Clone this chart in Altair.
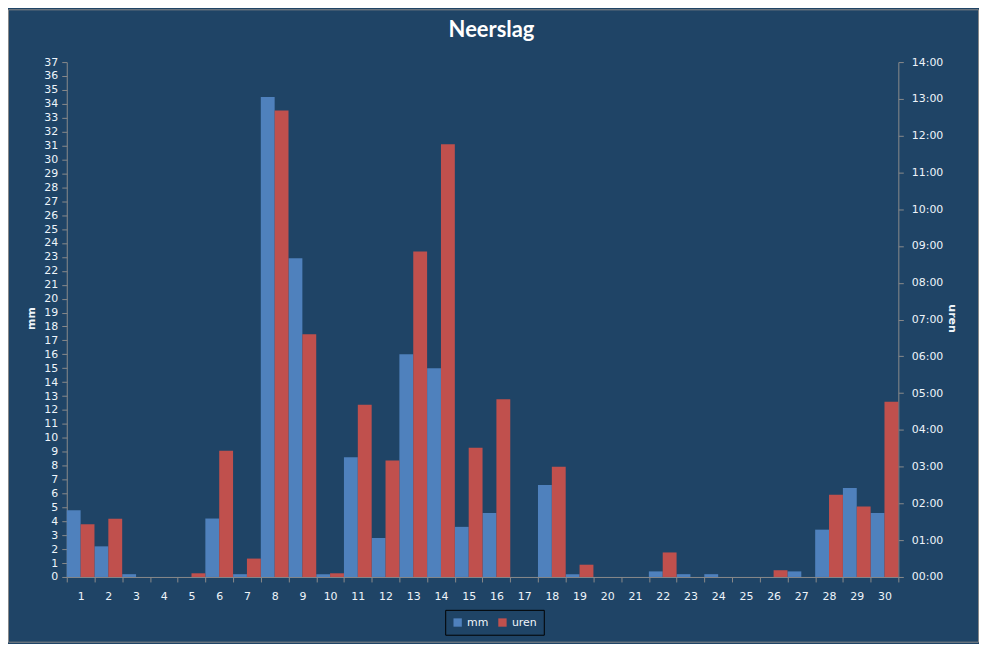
import altair as alt
import pandas as pd

# Neerslag per dag: millimeters en duur (uren:minuten)
dagen = list(range(1, 31))
mm = [4.8, 2.2, 0.2, 0, 0, 4.2, 0.2, 34.5, 22.9, 0.2,
      8.6, 2.8, 16.0, 15.0, 3.6, 4.6, 0, 6.6, 0.2, 0,
      0, 0.4, 0.2, 0.2, 0, 0, 0.4, 3.4, 6.4, 4.6]
uren = ["01:26", "01:35", "00:00", "00:00", "00:06", "03:26", "00:30", "12:41", "06:36", "00:06",
        "04:41", "03:10", "08:51", "11:46", "03:31", "04:50", "00:00", "03:00", "00:20", "00:00",
        "00:00", "00:40", "00:00", "00:00", "00:00", "00:11", "00:00", "02:14", "01:55", "04:46"]
mm_ticks = list(range(0, 38))
uur_ticks = list(range(0, 15))

BG = "#1F4466"
BLAUW = "#4F81BD"
ROOD = "#C0504D"
GRIJS = "#8A8A8A"
TEKST = "#EEF4FA"
FONT = "DejaVu Sans"


def naar_uren(s):
    h, m = s.split(":")
    return int(h) + int(m) / 60


df = pd.DataFrame(
    [{"dag": d, "serie": "mm", "waarde": v} for d, v in zip(dagen, mm)]
    + [{"dag": d, "serie": "uren", "waarde": naar_uren(u)} for d, u in zip(dagen, uren)]
)

W, H = 835, 517

x_enc = alt.X(
    "dag:O",
    scale=alt.Scale(paddingInner=0, paddingOuter=0),
    axis=alt.Axis(title=None, labelAngle=0, tickBand="extent", tickSize=5,
                  labelPadding=9, domainColor=GRIJS, tickColor=GRIJS,
                  labelColor=TEKST, labelFont=FONT, labelFontSize=11),
)
xoff = alt.XOffset("serie:N", scale=alt.Scale(domain=["mm", "uren"], paddingInner=0, paddingOuter=0))
kleur = alt.Color(
    "serie:N",
    scale=alt.Scale(domain=["mm", "uren"], range=[BLAUW, ROOD]),
    legend=alt.Legend(title=None, orient="none", legendX=380, legendY=550,
                      direction="horizontal", strokeColor="black", padding=7,
                      symbolType="square", symbolSize=70, symbolStrokeWidth=0,
                      labelColor=TEKST, labelFont=FONT, labelFontSize=11,
                      columnPadding=8, labelOffset=4),
)

base = alt.Chart(df)

mm_bars = base.transform_filter(alt.datum.serie == "mm").mark_bar().encode(
    x=x_enc,
    xOffset=xoff,
    color=kleur,
    y=alt.Y("waarde:Q", scale=alt.Scale(domain=[0, 37], nice=False),
            axis=alt.Axis(title="mm", values=mm_ticks, grid=False, tickSize=5,
                          labelPadding=4, domainColor=GRIJS, tickColor=GRIJS,
                          labelColor=TEKST, labelFont=FONT, labelFontSize=11,
                          titleColor=TEKST, titleFont=FONT, titleFontSize=11,
                          titleFontWeight="bold", titleAngle=-90,
                          titleX=-35, titleY=257, titleAlign="center",
                          titleBaseline="middle")),
)

uren_bars = base.transform_filter(alt.datum.serie == "uren").mark_bar().encode(
    x=x_enc,
    xOffset=xoff,
    color=kleur,
    y=alt.Y("waarde:Q", scale=alt.Scale(domain=[0, 14], nice=False),
            axis=alt.Axis(title="uren", orient="right", values=uur_ticks, grid=False,
                          tickSize=5, labelPadding=8, domainColor=GRIJS, tickColor=GRIJS,
                          labelExpr="(datum.value < 10 ? '0' : '') + datum.value + ':00'",
                          labelColor=TEKST, labelFont=FONT, labelFontSize=11,
                          titleColor=TEKST, titleFont=FONT, titleFontSize=11,
                          titleFontWeight="bold", titleAngle=90,
                          titleX=53, titleY=257, titleAlign="center",
                          titleBaseline="middle")),
)

# rand om het hele diagram
kader = alt.Chart(pd.DataFrame({"k": [0]})).mark_rect(
    fill=None, stroke=GRIJS, strokeWidth=1
).encode(x=alt.value(-58.5), x2=alt.value(W + 80.5), y=alt.value(-52.5), y2=alt.value(H + 65.5))

chart = alt.layer(mm_bars, uren_bars, kader).resolve_scale(
    y="independent"
).properties(
    width=W,
    height=H,
    autosize=alt.AutoSizeParams(type="none"),
    padding={"left": 59, "top": 53, "right": 81, "bottom": 66},
    background=BG,
    title=alt.Title("Neerslag", fontSize=22, fontWeight="bold", color="white",
                    font="Lato", anchor="middle", baseline="bottom", offset=-55, dx=9),
).configure_view(strokeWidth=0)

chart.save("out.html", embed_options={"renderer": "svg", "actions": False})
